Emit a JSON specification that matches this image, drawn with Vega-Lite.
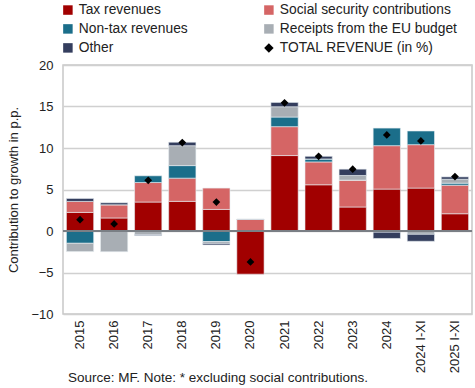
{
  "$schema": "https://vega.github.io/schema/vega-lite/v6.json",
  "autosize": {"type": "none"},
  "width": 409,
  "height": 249,
  "padding": {"left": 63, "top": 65, "right": 3, "bottom": 74},
  "background": "white",
  "config": {
    "font": "Liberation Sans",
    "view": {"stroke": "#c8c8c8", "strokeWidth": 1.5}
  },
  "title": {
    "text": "Source: MF. Note: * excluding social contributions.",
    "orient": "bottom",
    "anchor": "start",
    "fontSize": 13.5,
    "fontWeight": "normal",
    "color": "#222",
    "font": "Liberation Sans",
    "dx": 60,
    "dy": -6
  },
  "data": {
    "values": [
      {"period": "2015", "component": "Tax revenues", "value": 2.24},
      {"period": "2015", "component": "Social security contributions", "value": 1.32},
      {"period": "2015", "component": "Non-tax revenues", "value": -1.48},
      {"period": "2015", "component": "Receipts from the EU budget", "value": -1.0},
      {"period": "2015", "component": "Other", "value": 0.36},
      {"period": "2015", "component": "TOTAL REVENUE (in %)", "value": 1.37},
      {"period": "2016", "component": "Tax revenues", "value": 1.57},
      {"period": "2016", "component": "Social security contributions", "value": 1.59},
      {"period": "2016", "component": "Non-tax revenues", "value": 0.0},
      {"period": "2016", "component": "Receipts from the EU budget", "value": -2.5},
      {"period": "2016", "component": "Other", "value": 0.24},
      {"period": "2016", "component": "TOTAL REVENUE (in %)", "value": 0.85},
      {"period": "2017", "component": "Tax revenues", "value": 3.49},
      {"period": "2017", "component": "Social security contributions", "value": 2.35},
      {"period": "2017", "component": "Non-tax revenues", "value": 0.81},
      {"period": "2017", "component": "Receipts from the EU budget", "value": -0.45},
      {"period": "2017", "component": "Other", "value": -0.1},
      {"period": "2017", "component": "TOTAL REVENUE (in %)", "value": 6.1},
      {"period": "2018", "component": "Tax revenues", "value": 3.57},
      {"period": "2018", "component": "Social security contributions", "value": 2.8},
      {"period": "2018", "component": "Non-tax revenues", "value": 1.51},
      {"period": "2018", "component": "Receipts from the EU budget", "value": 2.4},
      {"period": "2018", "component": "Other", "value": 0.42},
      {"period": "2018", "component": "TOTAL REVENUE (in %)", "value": 10.65},
      {"period": "2019", "component": "Tax revenues", "value": 2.6},
      {"period": "2019", "component": "Social security contributions", "value": 2.57},
      {"period": "2019", "component": "Non-tax revenues", "value": -1.28},
      {"period": "2019", "component": "Receipts from the EU budget", "value": -0.22},
      {"period": "2019", "component": "Other", "value": -0.18},
      {"period": "2019", "component": "TOTAL REVENUE (in %)", "value": 3.49},
      {"period": "2020", "component": "Tax revenues", "value": -5.2},
      {"period": "2020", "component": "Social security contributions", "value": 1.39},
      {"period": "2020", "component": "Non-tax revenues", "value": 0.0},
      {"period": "2020", "component": "Receipts from the EU budget", "value": 0.0},
      {"period": "2020", "component": "Other", "value": 0.05},
      {"period": "2020", "component": "TOTAL REVENUE (in %)", "value": -3.72},
      {"period": "2021", "component": "Tax revenues", "value": 9.09},
      {"period": "2021", "component": "Social security contributions", "value": 3.48},
      {"period": "2021", "component": "Non-tax revenues", "value": 1.16},
      {"period": "2021", "component": "Receipts from the EU budget", "value": 1.24},
      {"period": "2021", "component": "Other", "value": 0.52},
      {"period": "2021", "component": "TOTAL REVENUE (in %)", "value": 15.45},
      {"period": "2022", "component": "Tax revenues", "value": 5.57},
      {"period": "2022", "component": "Social security contributions", "value": 2.75},
      {"period": "2022", "component": "Non-tax revenues", "value": 0.36},
      {"period": "2022", "component": "Receipts from the EU budget", "value": 0.0},
      {"period": "2022", "component": "Other", "value": 0.32},
      {"period": "2022", "component": "TOTAL REVENUE (in %)", "value": 9.0},
      {"period": "2023", "component": "Tax revenues", "value": 2.89},
      {"period": "2023", "component": "Social security contributions", "value": 3.24},
      {"period": "2023", "component": "Non-tax revenues", "value": 0.0},
      {"period": "2023", "component": "Receipts from the EU budget", "value": 0.56},
      {"period": "2023", "component": "Other", "value": 0.76},
      {"period": "2023", "component": "TOTAL REVENUE (in %)", "value": 7.45},
      {"period": "2024", "component": "Tax revenues", "value": 5.05},
      {"period": "2024", "component": "Social security contributions", "value": 5.23},
      {"period": "2024", "component": "Non-tax revenues", "value": 2.12},
      {"period": "2024", "component": "Receipts from the EU budget", "value": -0.15},
      {"period": "2024", "component": "Other", "value": -0.75},
      {"period": "2024", "component": "TOTAL REVENUE (in %)", "value": 11.57},
      {"period": "2024 I-XI", "component": "Tax revenues", "value": 5.17},
      {"period": "2024 I-XI", "component": "Social security contributions", "value": 5.23},
      {"period": "2024 I-XI", "component": "Non-tax revenues", "value": 1.65},
      {"period": "2024 I-XI", "component": "Receipts from the EU budget", "value": -0.4},
      {"period": "2024 I-XI", "component": "Other", "value": -0.84},
      {"period": "2024 I-XI", "component": "TOTAL REVENUE (in %)", "value": 10.85},
      {"period": "2025 I-XI", "component": "Tax revenues", "value": 2.08},
      {"period": "2025 I-XI", "component": "Social security contributions", "value": 3.44},
      {"period": "2025 I-XI", "component": "Non-tax revenues", "value": 0.24},
      {"period": "2025 I-XI", "component": "Receipts from the EU budget", "value": 0.48},
      {"period": "2025 I-XI", "component": "Other", "value": 0.28},
      {"period": "2025 I-XI", "component": "TOTAL REVENUE (in %)", "value": 6.56}
    ]
  },
  "encoding": {
    "x": {
      "field": "period",
      "type": "nominal",
      "sort": null,
      "scale": {"paddingInner": 0.2, "paddingOuter": 0.1},
      "axis": {
        "title": null,
        "labelAngle": -90,
        "labelFontSize": 13,
        "labelColor": "#222",
        "labelPadding": 6,
        "ticks": false,
        "domain": false
      }
    },
    "y": {
      "type": "quantitative",
      "scale": {"domain": [-10, 20], "nice": false},
      "axis": {
        "title": "Contribution to growth in p.p.",
        "titleFontSize": 13,
        "titleFontWeight": "normal",
        "titleColor": "#222",
        "titlePadding": 10,
        "values": [-10, -5, 0, 5, 10, 15, 20],
        "labelFontSize": 13,
        "labelColor": "#222",
        "labelPadding": 10,
        "ticks": false,
        "domain": false,
        "gridColor": "#d0d0d0",
        "gridWidth": 1.5
      }
    }
  },
  "resolve": {"legend": {"color": "shared", "shape": "shared"}},
  "layer": [
    {
      "transform": [
        {"filter": "datum.component !== 'TOTAL REVENUE (in %)'"},
        {"calculate": "indexof(['Tax revenues', 'Social security contributions', 'Non-tax revenues', 'Receipts from the EU budget', 'Other'], datum.component)", "as": "stackOrder"}
      ],
      "mark": {"type": "bar", "stroke": "#e8eef2", "strokeWidth": 0.6},
      "encoding": {
        "y": {"field": "value", "type": "quantitative", "stack": "zero"},
        "order": {"field": "stackOrder", "type": "quantitative", "sort": "ascending"},
        "color": {
          "field": "component",
          "type": "nominal",
          "title": null,
          "scale": {
            "domain": ["Tax revenues", "Non-tax revenues", "Other", "Social security contributions", "Receipts from the EU budget", "TOTAL REVENUE (in %)"],
            "range": ["#a10000", "#1b6e8a", "#343e5e", "#d56565", "#a8aeb4", "#000000"]
          },
          "legend": {
            "title": null,
            "orient": "none",
            "legendX": -2,
            "legendY": -62,
            "columns": 2,
            "columnPadding": 74,
            "rowPadding": 4,
            "labelFontSize": 13.8,
            "labelColor": "#222",
            "labelLimit": 0,
            "symbolSize": 90,
            "symbolStrokeWidth": 0,
            "labelOffset": 4
          }
        }
      }
    },
    {
      "mark": {"type": "rule", "color": "#7a7f85", "strokeWidth": 2},
      "encoding": {"y": {"datum": 0}, "x": null}
    },
    {
      "transform": [{"filter": "datum.component === 'TOTAL REVENUE (in %)'"}],
      "mark": {"type": "point", "filled": true, "size": 60, "opacity": 1},
      "encoding": {
        "y": {"field": "value", "type": "quantitative"},
        "color": {"field": "component", "type": "nominal", "title": null},
        "shape": {
          "field": "component",
          "type": "nominal",
          "title": null,
          "scale": {
            "domain": ["Tax revenues", "Non-tax revenues", "Other", "Social security contributions", "Receipts from the EU budget", "TOTAL REVENUE (in %)"],
            "range": ["square", "square", "square", "square", "square", "diamond"]
          }
        }
      }
    }
  ]
}
